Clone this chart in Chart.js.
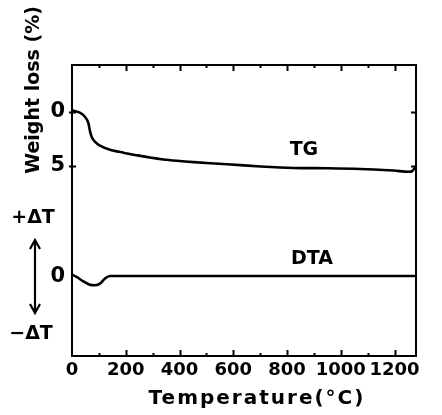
<!DOCTYPE html>
<html>
<head>
<meta charset="utf-8">
<script src="https://cdn.jsdelivr.net/npm/chart.js@4.4.1/dist/chart.umd.min.js"></script>
<style>
  html, body { margin: 0; padding: 0; background: #fff; }
  canvas { display: block; }
</style>
</head>
<body>
<canvas id="c" width="442" height="415"></canvas>
<script>
// ---- data ----
const tgTemp = [0, 29, 48, 60, 66, 73, 85, 104, 141, 191, 240, 290, 340, 389, 453, 578, 702, 825, 950, 1074, 1197, 1262, 1278];
const tgLoss = [-0.15, 0.06, 0.44, 0.95, 1.67, 2.29, 2.75, 3.12, 3.5, 3.77, 4.0, 4.22, 4.4, 4.52, 4.64, 4.84, 5.04, 5.18, 5.21, 5.28, 5.42, 5.52, 5.1];

const dtaTemp = [0, 17, 42, 66, 85, 104, 122, 141, 400, 700, 1000, 1278];
const dtaVal  = [0.12, -0.09, -0.49, -0.81, -0.86, -0.71, -0.25, 0, 0, 0, 0, 0];

const xTickLabels = [0, 200, 400, 600, 800, 1000, 1200];
const xMinorTicks = [100, 300, 500, 700, 900, 1100];
const tgTickLabels = [0, 5];
const dtaTickLabels = [0];

const FONT = '"DejaVu Sans", sans-serif';

const decorPlugin = {
  id: 'decor',
  afterDatasetsDraw(chart) {
    const ctx = chart.ctx;
    const a = chart.chartArea;
    const xs = chart.scales.x, ys = chart.scales.y, yd = chart.scales.yD;
    ctx.save();
    ctx.strokeStyle = '#000';
    ctx.fillStyle = '#000';
    ctx.lineWidth = 2;
    ctx.lineCap = 'butt';
    // inward ticks on bottom and top
    const drawX = (v, len) => {
      const px = Math.round(xs.getPixelForValue(v)) + 0.5;
      ctx.beginPath();
      ctx.moveTo(px, a.bottom); ctx.lineTo(px, a.bottom - len);
      ctx.moveTo(px, a.top); ctx.lineTo(px, a.top + len);
      ctx.stroke();
    };
    xTickLabels.forEach(v => { if (v > 0) drawX(v, 6); });
    xMinorTicks.forEach(v => drawX(v, 3));
    // ticks on left and right (TG scale)
    tgTickLabels.forEach(v => {
      const py = Math.round(ys.getPixelForValue(v)) + 0.5;
      ctx.beginPath();
      ctx.moveTo(a.left - 3, py); ctx.lineTo(a.left + 4, py);
      ctx.moveTo(a.right, py); ctx.lineTo(a.right - 5, py);
      ctx.stroke();
    });

    // DTA zero label on the left
    ctx.font = 'bold 21px ' + FONT;
    ctx.textAlign = 'right';
    ctx.textBaseline = 'middle';
    dtaTickLabels.forEach(v => {
      ctx.fillText(String(v), a.left - 7, yd.getPixelForValue(v) + 1);
    });

    // curve labels
    ctx.font = 'bold 19px ' + FONT;
    ctx.textAlign = 'center';
    ctx.fillText('TG', xs.getPixelForValue(863), ys.getPixelForValue(3.5));
    ctx.fillText('DTA', xs.getPixelForValue(893), yd.getPixelForValue(1.57));

    // left side: weight loss title
    ctx.save();
    ctx.font = 'bold 19px ' + FONT;
    ctx.translate(34, 90);
    ctx.rotate(-Math.PI / 2);
    ctx.textAlign = 'center';
    ctx.textBaseline = 'middle';
    ctx.fillText('Weight loss (%)', 0, 0);
    ctx.restore();

    // +ΔT / −ΔT and arrow
    ctx.font = 'bold 19px ' + FONT;
    ctx.textAlign = 'center';
    ctx.textBaseline = 'middle';
    ctx.fillText('+ΔT', 33, 218);
    ctx.fillText('−ΔT', 31, 334);
    ctx.lineWidth = 2.2;
    const ax = 35, y1 = 240, y2 = 313;
    ctx.beginPath();
    ctx.moveTo(ax, y1); ctx.lineTo(ax, y2);
    ctx.moveTo(ax - 5, y1 + 9); ctx.lineTo(ax, y1); ctx.lineTo(ax + 5, y1 + 9);
    ctx.moveTo(ax - 5, y2 - 9); ctx.lineTo(ax, y2); ctx.lineTo(ax + 5, y2 - 9);
    ctx.stroke();

    // x title
    ctx.font = 'bold 20px ' + FONT;
    ctx.letterSpacing = '2px';
    ctx.textAlign = 'center';
    ctx.fillText('Temperature(°C)', 257, 399);
    ctx.restore();
  }
};

new Chart(document.getElementById('c'), {
  type: 'line',
  data: {
    datasets: [
      {
        label: 'TG',
        data: tgTemp.map((t, i) => ({ x: t, y: tgLoss[i] })),
        xAxisID: 'x', yAxisID: 'y',
        borderColor: '#000', borderWidth: 2.6,
        pointRadius: 0, tension: 0.3, fill: false
      },
      {
        label: 'DTA',
        data: dtaTemp.map((t, i) => ({ x: t, y: dtaVal[i] })),
        xAxisID: 'x', yAxisID: 'yD',
        borderColor: '#000', borderWidth: 2.6,
        pointRadius: 0, cubicInterpolationMode: 'monotone', fill: false
      }
    ]
  },
  options: {
    responsive: false,
    devicePixelRatio: 1,
    animation: false,
    layout: { padding: { left: 0, right: 26, top: 65, bottom: 0 } },
    plugins: { legend: { display: false }, tooltip: { enabled: false } },
    scales: {
      x: {
        type: 'linear', position: 'bottom', min: 0, max: 1280,
        afterBuildTicks: s => { s.ticks = xTickLabels.map(v => ({ value: v })); },
        afterFit: s => { s.height = 59; },
        ticks: { color: '#000', font: { family: FONT, size: 18, weight: 'bold' }, padding: 4, maxRotation: 0, autoSkip: false,
                 callback: v => String(v) },
        grid: { drawOnChartArea: false, drawTicks: false },
        border: { display: true, color: '#000', width: 2 }
      },
      x2: {
        type: 'linear', position: 'top', min: 0, max: 1280,
        afterFit: s => { s.height = 0; },
        ticks: { display: false },
        grid: { drawOnChartArea: false, drawTicks: false },
        border: { display: true, color: '#000', width: 2 }
      },
      y: {
        type: 'linear', position: 'left', reverse: true, min: -4.35, max: 22.59,
        afterBuildTicks: s => { s.ticks = tgTickLabels.map(v => ({ value: v })); },
        afterFit: s => { s.width = 72; },
        ticks: { color: '#000', font: { family: FONT, size: 21, weight: 'bold' }, padding: 7, callback: v => String(v) },
        grid: { drawOnChartArea: false, drawTicks: false },
        border: { display: true, color: '#000', width: 2 }
      },
      y2: {
        type: 'linear', position: 'right', min: 0, max: 1,
        afterFit: s => { s.width = 0; },
        ticks: { display: false },
        grid: { drawOnChartArea: false, drawTicks: false },
        border: { display: true, color: '#000', width: 2 }
      },
      yD: {
        type: 'linear', display: false, min: -7.41, max: 19.54
      }
    }
  },
  plugins: [decorPlugin]
});
</script>
</body>
</html>
